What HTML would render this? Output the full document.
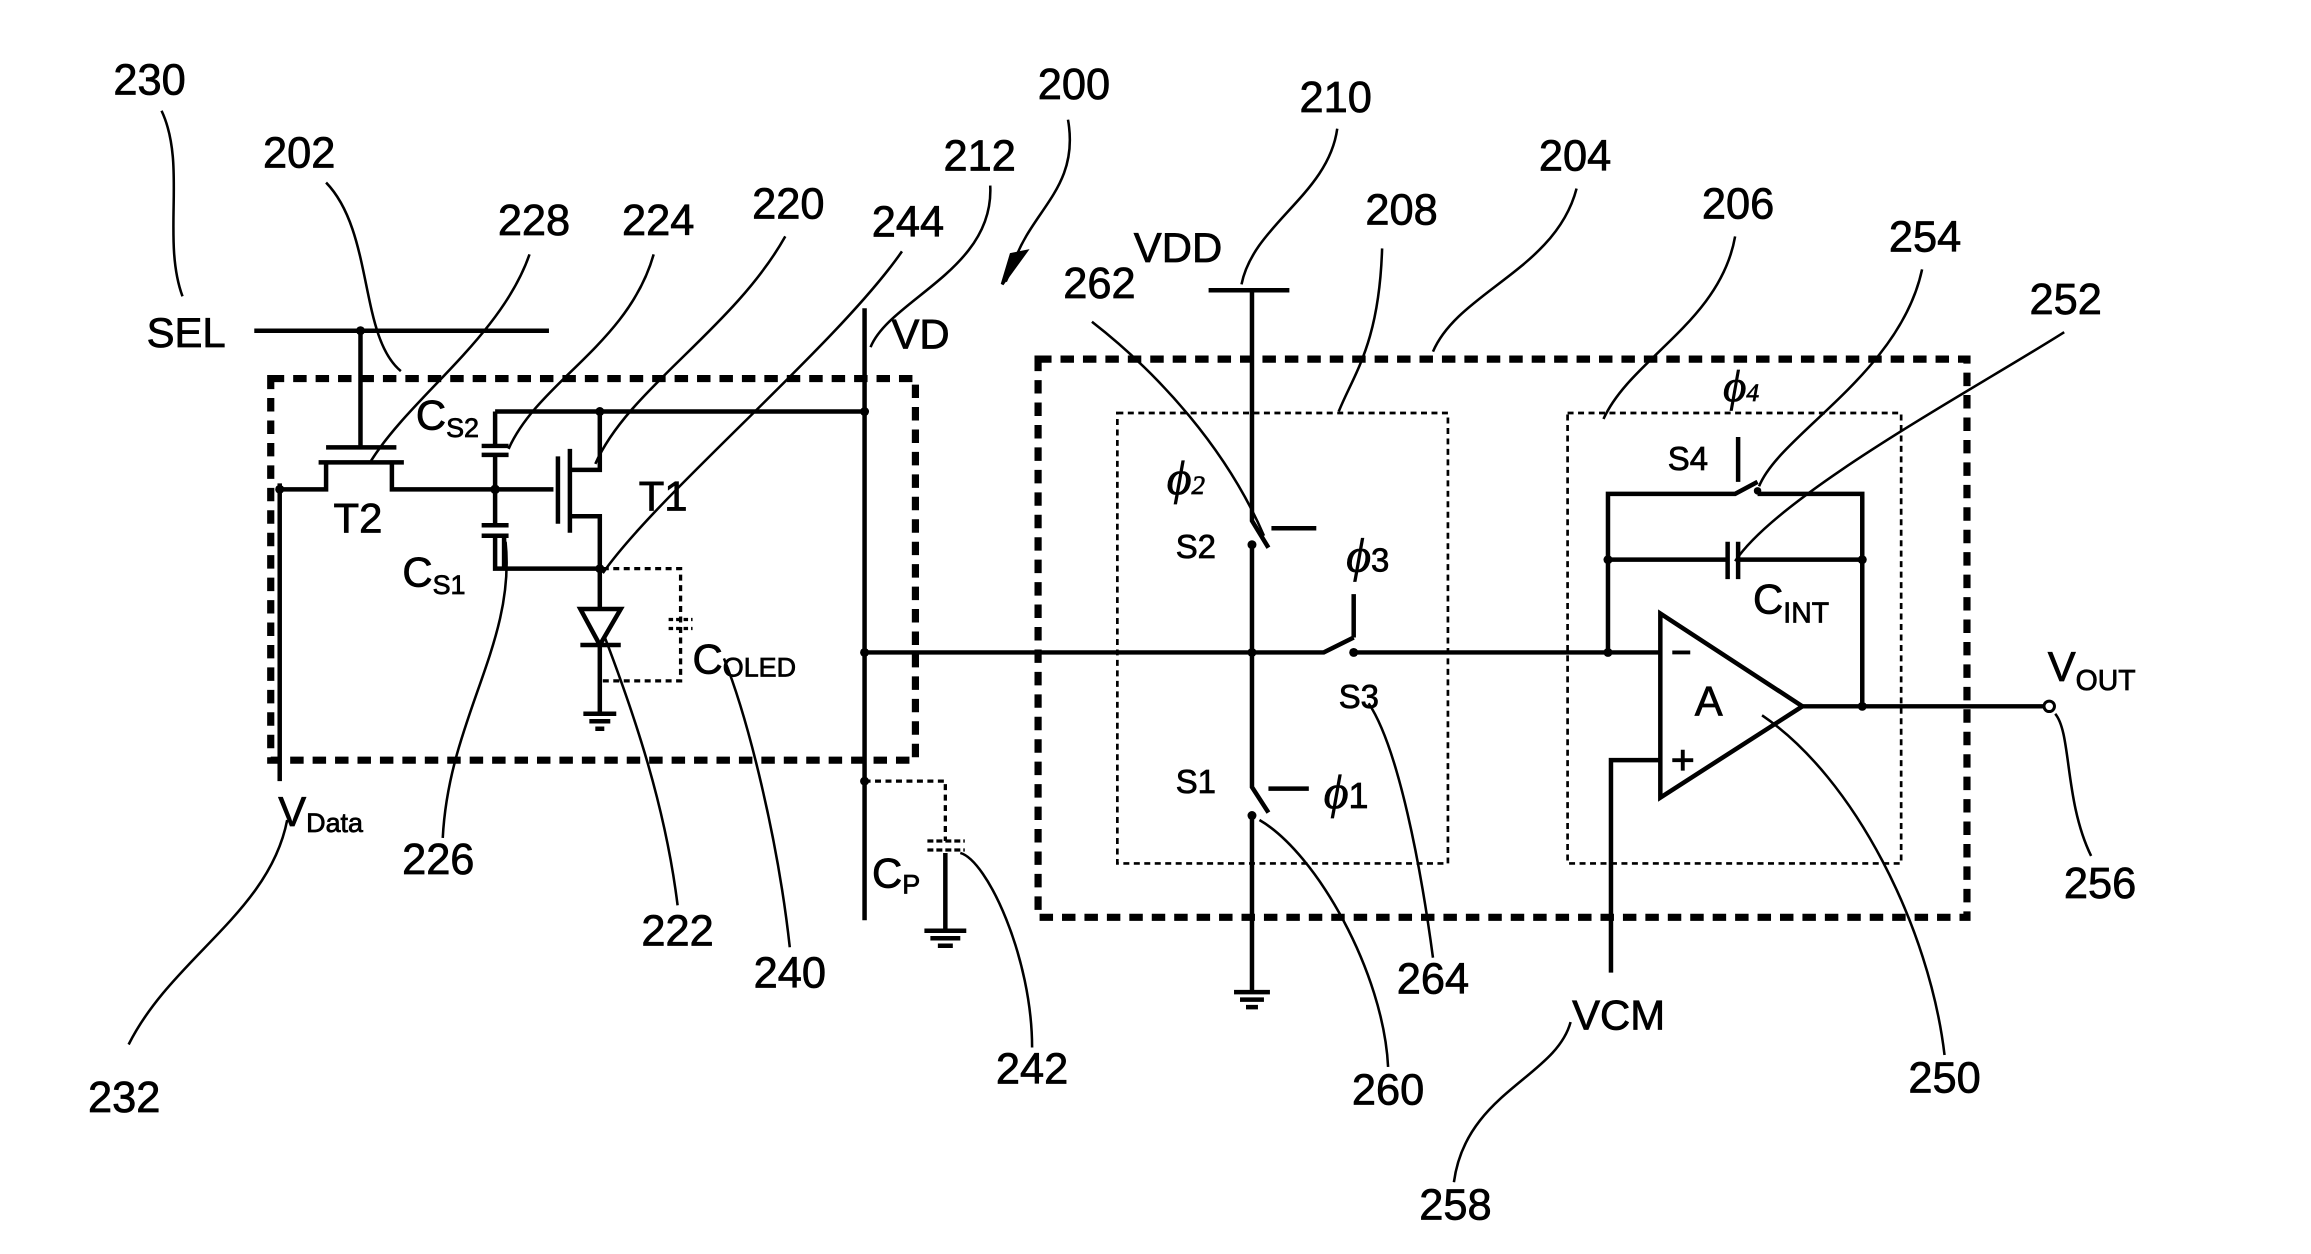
<!DOCTYPE html>
<html><head><style>
html,body{margin:0;padding:0;background:#fff;}
svg{display:block;}
text{font-family:"Liberation Sans",Arial,sans-serif;fill:#000;stroke:#000;stroke-width:0.5;}
</style></head><body>
<svg width="2311" height="1254" viewBox="0 0 1545 838" preserveAspectRatio="none" xmlns="http://www.w3.org/2000/svg">
<g fill="none" stroke="#000" stroke-width="3" stroke-linecap="butt">
<rect x="181" y="253" width="431" height="255" stroke-width="4.8" stroke-dasharray="9 6"/>
<rect x="694" y="240" width="621" height="373" stroke-width="4.8" stroke-dasharray="9 6"/>
<rect x="747" y="276" width="221" height="301" stroke-width="1.8" stroke-dasharray="4 3"/>
<rect x="1048" y="276" width="223" height="301" stroke-width="1.8" stroke-dasharray="4 3"/>
<path d="M170 221H367M241 221V298"/>
<path d="M187 323V522M187 327H218V309M213 309H270M218 299H265M262 309V327H331"/>
<path d="M331 275V298M322 298H340M322 304H340M331 304V351M322 351H340M322 358H340M331 358V380H401M337 358V380"/>
<path d="M331 275H578"/>
<path d="M331 327H370M373 305V350M381 300V356M381 314H401V275M381 345H401V380"/>
<path d="M401 380V407M388 407H415L401 431Z M388 431H415M401 431V477M390 477H412M394 482H408M398 487H404"/>
<path d="M403 380H455V455H403" stroke-width="2.2" stroke-dasharray="4 3"/>
<path d="M447 414H463M447 420H463" stroke-width="2.2" stroke-dasharray="3 2"/>
<path d="M578 206V615M578 436H885L905 426M905 426V397M905 436H1110"/>
<path d="M578 522H632V562" stroke-width="2.2" stroke-dasharray="4 3"/>
<path d="M620 562H645M620 568H645" stroke-width="2.2" stroke-dasharray="4 2"/>
<path d="M632 570V622M618 622H646M622 627H642M627 632H637"/>
<path d="M808 194H862M837 194V348L848 366M850 353H880M837 364V526L848 543M848 527H875M837 545V663M825 663H849M829 668H845M833 673H841"/>
<path d="M1110 410V533L1205 472Z"/>
<path d="M1075 436V330H1160L1175 322M1162 292V322M1175 330H1245V472M1075 374H1155M1155 362V387M1162 362V387M1162 374H1245"/>
<path d="M1205 472H1366M1110 508H1077V650"/>
<path d="M1118 436H1130M1118 508H1132M1125 501V515" stroke-width="2.6"/>
</g>
<circle cx="1370" cy="472" r="3.5" fill="#fff" stroke="#000" stroke-width="2"/>
<g fill="#000">
<circle cx="241" cy="221" r="3"/><circle cx="187" cy="327" r="3"/><circle cx="331" cy="327" r="3.2"/>
<circle cx="401" cy="275" r="3"/><circle cx="401" cy="380" r="3"/><circle cx="578" cy="275" r="3"/>
<circle cx="578" cy="436" r="3"/><circle cx="578" cy="522" r="3"/><circle cx="837" cy="436" r="3"/>
<circle cx="837" cy="364" r="3"/><circle cx="837" cy="545" r="3"/><circle cx="905" cy="436" r="3"/>
<circle cx="1075" cy="436" r="3"/><circle cx="1075" cy="374" r="3"/><circle cx="1245" cy="374" r="3"/>
<circle cx="1245" cy="472" r="3"/><circle cx="1175" cy="328" r="2.5"/>
</g>
<g fill="none" stroke="#000" stroke-width="1.7">
<path d="M108 74C125 110,108 160,122 198"/>
<path d="M218 122C250 155,240 225,268 248"/>
<path d="M354 170C335 225,275 265,248 308"/>
<path d="M437 170C420 230,360 255,340 300"/>
<path d="M525 158C490 220,420 260,398 310"/>
<path d="M603 168C560 230,440 330,403 383"/>
<path d="M662 124C665 180,595 200,582 232"/>
<path d="M714 80C722 125,690 140,678 175"/>
<path d="M894 86C888 130,838 150,830 190"/>
<path d="M924 166C922 230,905 250,895 275"/>
<path d="M1054 126C1040 180,975 195,958 235"/>
<path d="M1160 158C1150 215,1090 240,1072 280"/>
<path d="M1285 180C1270 250,1190 290,1176 325"/>
<path d="M1380 222C1320 260,1190 330,1160 375"/>
<path d="M730 215C775 250,820 300,845 358"/>
<path d="M296 560C300 480,345 430,338 362"/>
<path d="M453 605C445 540,425 480,404 425"/>
<path d="M528 633C520 560,500 480,484 440"/>
<path d="M690 700C690 640,660 575,642 570"/>
<path d="M86 698C115 640,180 610,192 548"/>
<path d="M928 713C925 650,880 570,842 548"/>
<path d="M958 640C950 580,935 500,915 470"/>
<path d="M972 790C980 730,1040 720,1050 683"/>
<path d="M1300 705C1290 620,1240 520,1178 478"/>
<path d="M1398 572C1380 535,1385 490,1374 477"/>
</g>
<path d="M670 190L686 168L676 170Z" fill="#000" stroke="#000" stroke-width="2"/>
<path d="M678 175L672 188" stroke="#000" stroke-width="2.5"/>
<g font-size="29" text-anchor="middle">
<text x="100" y="63">230</text><text x="200" y="112">202</text><text x="357" y="157">228</text>
<text x="440" y="157">224</text><text x="527" y="146">220</text><text x="607" y="158">244</text>
<text x="655" y="114">212</text><text x="718" y="66">200</text><text x="893" y="75">210</text>
<text x="937" y="150">208</text><text x="1053" y="114">204</text><text x="1162" y="146">206</text>
<text x="1287" y="168">254</text><text x="1381" y="210">252</text><text x="735" y="199">262</text>
<text x="293" y="584">226</text><text x="453" y="632">222</text><text x="528" y="660">240</text>
<text x="690" y="724">242</text><text x="83" y="743">232</text><text x="928" y="738">260</text>
<text x="958" y="664">264</text><text x="973" y="815">258</text><text x="1300" y="730">250</text>
<text x="1404" y="600">256</text>
</g>
<g font-size="28">
<text x="98" y="232">SEL</text><text x="596" y="233">VD</text><text x="758" y="175">VDD</text>
<text x="223" y="356">T2</text><text x="427" y="341">T1</text>
<text x="278" y="287">C<tspan font-size="18" dy="5">S2</tspan></text>
<text x="269" y="392">C<tspan font-size="18" dy="5">S1</tspan></text>
<text x="463" y="450">C<tspan font-size="18" dy="2">OLED</tspan></text>
<text x="186" y="552">V<tspan font-size="18" dy="4">Data</tspan></text>
<text x="583" y="593">C<tspan font-size="18" dy="4">P</tspan></text>
<text x="1051" y="688">VCM</text>
<text x="1369" y="455">V<tspan font-size="19" dy="6">OUT</tspan></text>
<text x="1172" y="410">C<tspan font-size="19" dy="6">INT</tspan></text>
<text x="1133" y="478">A</text>
</g>
<g font-size="22">
<text x="786" y="373">S2</text><text x="786" y="530">S1</text><text x="895" y="473">S3</text><text x="1115" y="314">S4</text>
</g>
<g font-style="italic">
<text x="780" y="330" font-size="32" style="font-family:'Liberation Serif',serif">ϕ<tspan font-size="18">2</tspan></text>
<text x="900" y="382" font-size="32" style="font-family:'Liberation Serif',serif">ϕ<tspan font-size="22" font-style="normal" style="font-family:'Liberation Sans',sans-serif">3</tspan></text>
<text x="885" y="540" font-size="32" style="font-family:'Liberation Serif',serif">ϕ<tspan font-size="24" font-style="normal" style="font-family:'Liberation Sans',sans-serif">1</tspan></text>
<text x="1152" y="268" font-size="30" style="font-family:'Liberation Serif',serif">ϕ<tspan font-size="17">4</tspan></text>
</g>
</svg>
</body></html>
